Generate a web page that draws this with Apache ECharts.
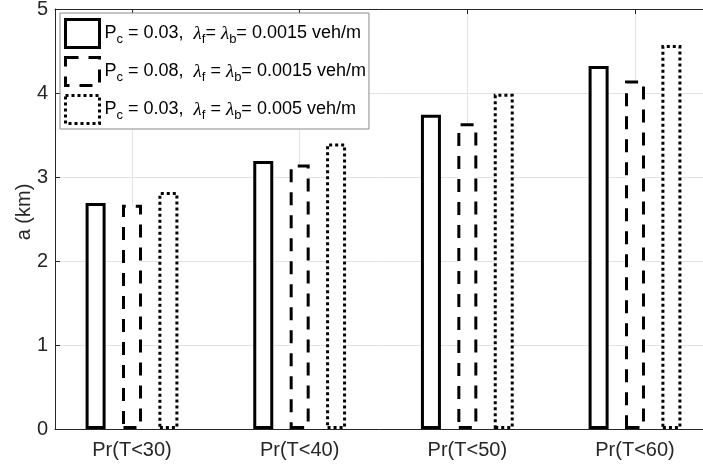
<!DOCTYPE html>
<html>
<head>
<meta charset="utf-8">
<script src="https://cdn.jsdelivr.net/npm/echarts@6/dist/echarts.min.js"></script>
<style>
  html, body { margin: 0; padding: 0; background: #ffffff; }
  #chart { width: 703px; height: 466px; }
</style>
</head>
<body>
<div id="chart"></div>
<script>
// Probability thresholds on the x axis
const categories = ['Pr(T<30)', 'Pr(T<40)', 'Pr(T<50)', 'Pr(T<60)'];

// Required range a (km) for each parameter set
const solidValues  = [2.69, 3.19, 3.74, 4.32];
const dashedValues = [2.67, 3.15, 3.64, 4.15];
const dottedValues = [2.82, 3.40, 3.99, 4.57];

// Series names and their legend labels (with sub-scripts)
const seriesNames = [
  'Pc = 0.03, λf = λb = 0.0015 veh/m',
  'Pc = 0.08, λf = λb = 0.0015 veh/m',
  'Pc = 0.03, λf = λb = 0.005 veh/m'
];
const legendLabels = [
  'P{sub|c} = 0.03,  {lam|λ}{sub|f}= {lam|λ}{sub|b}= 0.0015 veh/m',
  'P{sub|c} = 0.08,  {lam|λ}{sub|f} = {lam|λ}{sub|b}= 0.0015 veh/m',
  'P{sub|c} = 0.03,  {lam|λ}{sub|f} = {lam|λ}{sub|b}= 0.005 veh/m'
];

// Y axis ticks
const yMin = 0, yMax = 5, yStep = 1;
const yAxisTitle = 'a (km)';

const FONT = 'Liberation Sans, Arial, sans-serif';
const AXIS_COLOR = '#262626';
const GRID_COLOR = '#e3e3e3';

const lineTypes = ['solid', [13, 10], 'dotted'];
const valueSets = [solidValues, dashedValues, dottedValues];
const groupPositions = categories.map((c, i) => i + 1);

const chart = echarts.init(document.getElementById('chart'), null, { renderer: 'canvas' });

const series = valueSets.map((vals, k) => ({
  name: seriesNames[k],
  type: 'bar',
  barWidth: 20,
  barGap: '82%',
  data: vals.map((v, i) => [groupPositions[i], v]),
  itemStyle: {
    color: '#ffffff',
    borderColor: '#000000',
    borderWidth: 3,
    borderType: lineTypes[k]
  },
  emphasis: { disabled: true },
  z: 2
}));

const xMin = 0.5408, xMax = 4.4592;

chart.setOption({
  animation: false,
  backgroundColor: '#ffffff',
  grid: {
    left: 55,
    top: 9,
    width: 657,
    height: 420,
    containLabel: false,
    outerBoundsMode: 'none'
  },
  legend: {
    orient: 'vertical',
    left: 60,
    top: 13,
    padding: [5, 3, 4, 4],
    itemWidth: 34,
    itemHeight: 28,
    itemGap: 7,
    backgroundColor: '#ffffff',
    borderColor: '#8a8a8a',
    borderWidth: 1,
    borderRadius: 0,
    selectedMode: false,
    icon: 'rect',
    data: seriesNames.map((n, k) => ({
      name: n,
      itemStyle: {
        color: '#ffffff',
        borderColor: '#000000',
        borderWidth: 3,
        borderType: lineTypes[k]
      }
    })),
    formatter: name => legendLabels[seriesNames.indexOf(name)],
    textStyle: {
      fontFamily: FONT,
      fontSize: 18,
      color: '#000000',
      rich: {
        sub: { fontFamily: FONT, fontSize: 13, color: '#000000', padding: [12, 0, 0, 0] },
        lam: { fontFamily: 'Liberation Serif, serif', fontStyle: 'italic', fontSize: 19, color: '#000000' }
      }
    }
  },
  xAxis: [{
    type: 'value',
    position: 'bottom',
    min: xMin,
    max: xMax,
    axisLine: { show: true, lineStyle: { color: AXIS_COLOR, width: 1 } },
    axisTick: { show: true, inside: true, length: 5, customValues: groupPositions, lineStyle: { color: AXIS_COLOR } },
    axisLabel: {
      customValues: groupPositions,
      formatter: v => categories[Math.round(v) - 1] || '',
      fontFamily: FONT,
      fontSize: 20,
      color: AXIS_COLOR,
      margin: 11
    },
    splitLine: { show: true, lineStyle: { color: GRID_COLOR, width: 1 } }
  }, {
    type: 'value',
    position: 'top',
    min: xMin,
    max: xMax,
    axisLine: { show: true, onZero: false, lineStyle: { color: AXIS_COLOR, width: 1 } },
    axisTick: { show: true, inside: true, length: 5, customValues: groupPositions, lineStyle: { color: AXIS_COLOR } },
    axisLabel: { show: false },
    splitLine: { show: false }
  }],
  yAxis: {
    type: 'value',
    min: yMin,
    max: yMax,
    interval: yStep,
    name: yAxisTitle,
    nameLocation: 'middle',
    nameRotate: 90,
    nameGap: 21,
    nameMoveOverlap: false,
    nameTextStyle: { fontFamily: FONT, fontSize: 20, color: AXIS_COLOR, padding: [0, 0, 0, 14] },
    axisLine: { show: true, lineStyle: { color: AXIS_COLOR, width: 1 } },
    axisTick: { show: true, inside: true, length: 5, lineStyle: { color: AXIS_COLOR } },
    axisLabel: { fontFamily: FONT, fontSize: 20, color: AXIS_COLOR, margin: 7 },
    splitLine: { show: true, lineStyle: { color: GRID_COLOR, width: 1 } }
  },
  series: series
});
</script>
</body>
</html>
